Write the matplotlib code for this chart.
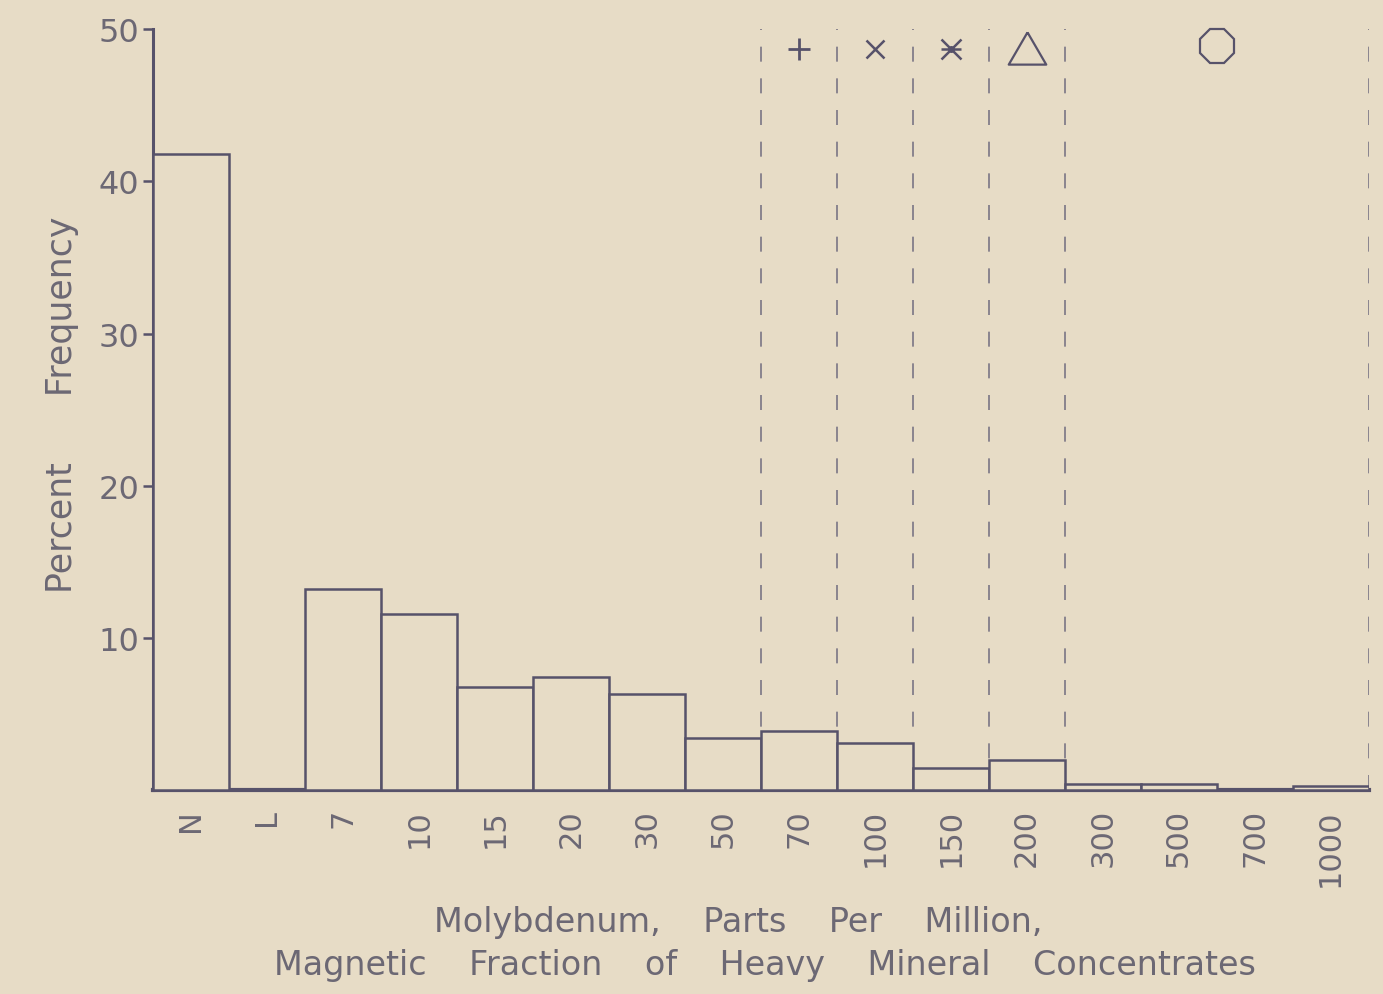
#!/usr/bin/env python3
"""Histogram of molybdenum in magnetic heavy-mineral concentrates."""

import matplotlib
matplotlib.use("Agg")
import matplotlib.pyplot as plt

BG = "#e7dcc6"
INK = "#57526a"
TEXT = "#6c6874"
DASH = "#7a7584"

# categories (ppm classes) and percent frequency
classes = ["N", "L", "7", "10", "15", "20", "30", "50", "70", "100",
           "150", "200", "300", "500", "700", "1000"]
percent = [41.8, 0.0, 13.2, 11.6, 6.8, 7.4, 6.3, 3.4, 3.9, 3.1,
           1.45, 2.0, 0.4, 0.4, 0.0, 0.25]

# class boundaries marked by dashed lines (after these class indices)
boundary_after = [7, 8, 9, 10, 11, 15]
# map symbol for each class group: (marker, first class, last class)
symbols = [("plus", 8, 8), ("cross", 9, 9), ("star", 10, 10),
           ("triangle", 11, 11), ("octagon", 12, 15)]
yticks = [10, 20, 30, 40, 50]

TRIANGLE = [(0, 0.86), (-1, -0.86), (1, -0.86), (0, 0.86)]


def main():
    fig = plt.figure(figsize=(13.83, 9.95), dpi=100, facecolor=BG)
    ax = fig.add_axes([0.1106, 0.205, 0.879, 0.7645], facecolor=BG)

    x = list(range(len(classes)))
    for xi, p in zip(x, percent):
        if p > 0:
            ax.bar(xi, p, width=1.0, facecolor=BG, edgecolor=INK,
                   linewidth=1.8, zorder=3)

    for b in boundary_after:
        ax.axvline(b + 0.5, color=DASH, lw=1.2, ls=(0, (9, 10)), zorder=1)

    # symbols sit just under the top of the axis
    for name, lo, hi in symbols:
        xc = (lo + hi) / 2
        kw = dict(clip_on=False, zorder=4, color=INK)
        if name == "plus":
            ax.plot(xc, 48.7, marker="+", ms=16, mew=2.0, **kw)
        elif name == "cross":
            ax.plot(xc, 48.7, marker="x", ms=13, mew=1.8, **kw)
        elif name == "star":
            ax.plot(xc, 48.7, marker="x", ms=15, mew=1.8, **kw)
            ax.plot(xc, 48.7, marker="_", ms=15, mew=1.8, **kw)
            ax.plot(xc, 48.7, marker="o", ms=5, mew=0, **kw)
        elif name == "triangle":
            ax.plot(xc, 48.8, marker=TRIANGLE, ms=27, mfc="none", mec=INK,
                    mew=1.6, clip_on=False, zorder=4)
        elif name == "octagon":
            ax.plot(xc, 48.9, marker="8", ms=26, mfc="none", mec=INK,
                    mew=1.6, clip_on=False, zorder=4)

    ax.set_xlim(-0.5, len(classes) - 0.5)
    ax.set_ylim(0, 50)
    ax.set_yticks(yticks)
    ax.set_yticklabels([str(t) for t in yticks], fontsize=23, color=TEXT)
    ax.tick_params(axis="y", length=7, width=1.8, color=INK, pad=3)
    ax.set_xticks(x)
    ax.set_xticklabels(classes, rotation=90, fontsize=22, color=TEXT)
    ax.tick_params(axis="x", length=0, pad=13)

    for side in ("top", "right"):
        ax.spines[side].set_visible(False)
    ax.spines["left"].set_color(INK)
    ax.spines["left"].set_linewidth(2.2)
    ax.spines["bottom"].set_color(INK)
    ax.spines["bottom"].set_linewidth(3.0)

    fig.text(0.045, 0.593, "Percent      Frequency", rotation=90,
             ha="center", va="center", fontsize=25, color=TEXT)
    fig.text(0.534, 0.073, "Molybdenum,    Parts    Per    Million,",
             ha="center", va="center", fontsize=24, color=TEXT)
    fig.text(0.553, 0.030,
             "Magnetic    Fraction    of    Heavy    Mineral    Concentrates",
             ha="center", va="center", fontsize=24, color=TEXT)

    fig.savefig("out.png", dpi=100, facecolor=BG)
    plt.close(fig)


if __name__ == "__main__":
    main()
